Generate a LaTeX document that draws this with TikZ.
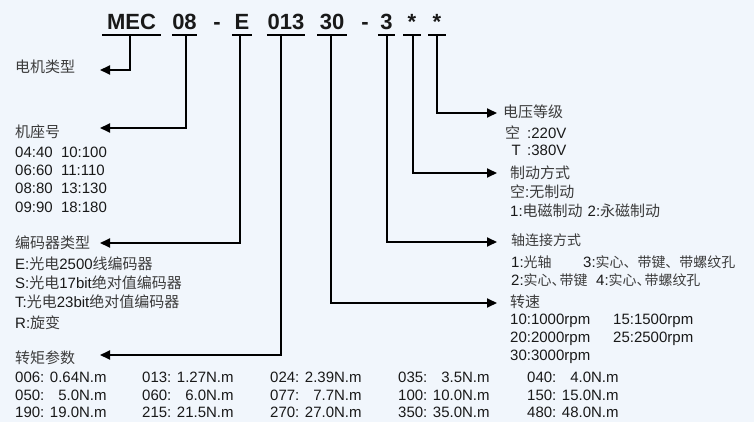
\documentclass[tikz,border=0pt]{standalone}
\usepackage{fontspec}
\setmainfont{Liberation Sans}
\newfontfamily\cjk{Noto Sans CJK SC}
\newfontfamily\cjks[Scale=0.93]{Noto Sans CJK SC}
\usetikzlibrary{arrows.meta}
\definecolor{bg}{RGB}{241,246,252}
\definecolor{txt}{RGB}{25,25,25}
\definecolor{zhgray}{RGB}{60,60,60}
\newcommand\zh[1]{{\cjk\color{zhgray}#1}}
\newcommand\zs[1]{{\cjks\color{zhgray}#1}}
\newcommand\dun{\makebox[8pt][l]{、}}
\begin{document}
\begin{tikzpicture}[x=1pt,y=-1pt,
  hd/.style={anchor=base,inner sep=0pt,font=\fontsize{22}{24}\selectfont\bfseries,text=txt},
  ul/.style={line width=1.8pt,black},
  conn/.style={line width=1.8pt,black,-{Triangle[length=10pt,width=9pt]}},
  lb/.style={anchor=west,inner sep=0pt,font=\fontsize{15}{18}\selectfont,text=txt}]
\fill[bg] (0,0) rectangle (754,422);
\useasboundingbox (0,0) rectangle (754,422);
% header
\node[hd,minimum width=59pt] (mec) at (131.5,30) {MEC};
\node[hd,minimum width=25pt] (n08) at (184.5,30) {08};
\node[hd] (d1) at (217,30) {-};
\node[hd,minimum width=20pt] (ne) at (242,30) {E};
\node[hd,minimum width=38pt] (n013) at (286,30) {013};
\node[hd,minimum width=29pt] (n30) at (332,30) {30};
\node[hd] (d2) at (365,30) {-};
\node[hd,minimum width=17pt] (n3) at (386.5,30) {3};
\node[hd,minimum width=17pt] (s1) at (412,30) {*};
\node[hd,minimum width=17pt] (s2) at (437,30) {*};
\foreach \n in {mec,n08,ne,n013,n30,n3,s1,s2}
  \draw[ul] ([yshift=-5pt]\n.base west) -- ([yshift=-5pt]\n.base east);
% arrow tips
\coordinate (tA) at (100,70);
\coordinate (tB) at (100,128);
\coordinate (tC) at (100,243);
\coordinate (tD) at (100,355);
\coordinate (tE) at (497,303);
\coordinate (tF) at (497,242);
\coordinate (tG) at (497,173);
\coordinate (tH) at (497,113);
\draw[conn] ([xshift=-1.5pt,yshift=-5pt]mec.base) |- (tA);
\draw[conn] ([xshift=1.5pt,yshift=-5pt]n08.base) |- (tB);
\draw[conn] ([xshift=-2pt,yshift=-5pt]ne.base) |- (tC);
\draw[conn] ([xshift=-5pt,yshift=-5pt]n013.base) |- (tD);
\draw[conn] ([xshift=-1pt,yshift=-5pt]n30.base) |- (tE);
\draw[conn] ([xshift=0.5pt,yshift=-5pt]n3.base) |- (tF);
\draw[conn] ([xshift=1pt,yshift=-5pt]s1.base) |- (tG);
\draw[conn] ([yshift=-5pt]s2.base) |- (tH);
% left column
\node[lb] (l1) at (15,67) {\zh{电机类型}};
\node[lb] (l2) at (15,132) {\zh{机座号}};
\node[lb] (l2a) at (15,152) {04:40\ \ 10:100};
\node[lb] (l2b) at (15,170) {06:60\ \ 11:110};
\node[lb] (l2c) at (15,188) {08:80\ \ 13:130};
\node[lb] (l2d) at (15,207) {09:90\ \ 18:180};
\node[lb] (l3) at (15,243) {\zh{编码器类型}};
\node[lb] (l3a) at (15,264) {E:\zh{光电}2500\zh{线编码器}};
\node[lb] (l3b) at (15,283) {S:\zh{光电}17bit\zh{绝对值编码器}};
\node[lb] (l3c) at (15,302) {T:\zh{光电}23bit\zh{绝对值编码器}};
\node[lb] (l3d) at (15,323) {R:\zh{旋变}};
\node[lb] (l4) at (15,358) {\zh{转矩参数}};
% torque table
\node[lb] (q11) at (15,377.5) {006: 0.64N.m};
\node[lb] (q12) at (142,377.5) {013: 1.27N.m};
\node[lb] (q13) at (270,377.5) {024: 2.39N.m};
\node[lb] (q14) at (398,377.5) {035: \phantom{0}3.5N.m};
\node[lb] (q15) at (527,377.5) {040: \phantom{0}4.0N.m};
\node[lb] (q21) at (15,395) {050: \phantom{0}5.0N.m};
\node[lb] (q22) at (142,395) {060: \phantom{0}6.0N.m};
\node[lb] (q23) at (270,395) {077: \phantom{0}7.7N.m};
\node[lb] (q24) at (398,395) {100: 10.0N.m};
\node[lb] (q25) at (527,395) {150: 15.0N.m};
\node[lb] (q31) at (15,412) {190: 19.0N.m};
\node[lb] (q32) at (142,412) {215: 21.5N.m};
\node[lb] (q33) at (270,412) {270: 27.0N.m};
\node[lb] (q34) at (398,412) {350: 35.0N.m};
\node[lb] (q35) at (527,412) {480: 48.0N.m};
% right column
\node[lb] (r1) at (503,112) {\zh{电压等级}};
\node[lb] (r1a) at (505,133) {\makebox[22pt][l]{\zh{空}}:220V};
\node[lb] (r1b) at (505,150) {\makebox[22pt][c]{T}:380V};
\node[lb] (r2) at (510,173) {\zh{制动方式}};
\node[lb] (r2a) at (510,192) {\zh{空}:\zh{无制动}};
\node[lb] (r2b) at (510,211) {1:\zh{电磁制动}\hspace{5pt}2:\zh{永磁制动}};
\node[lb] (r3) at (511,240) {\zs{轴连接方式}};
\node[lb] (r3a) at (511,262) {1:\zs{光轴}};
\node[lb] (r3b) at (583,262) {3:\zs{实心、带键、带螺纹孔}};
\node[lb] (r3c) at (511,280) {2:\zs{实心\dun 带键}};
\node[lb] (r3d) at (596,280) {4:\zs{实心\dun 带螺纹孔}};
\node[lb] (r4) at (510,302) {\zh{转速}};
\node[lb] (r4a) at (510,321) {10:1000rpm};
\node[lb] (r4b) at (613,321) {15:1500rpm};
\node[lb] (r4c) at (510,339) {20:2000rpm};
\node[lb] (r4d) at (613,339) {25:2500rpm};
\node[lb] (r4e) at (510,357) {30:3000rpm};
\end{tikzpicture}
\end{document}
